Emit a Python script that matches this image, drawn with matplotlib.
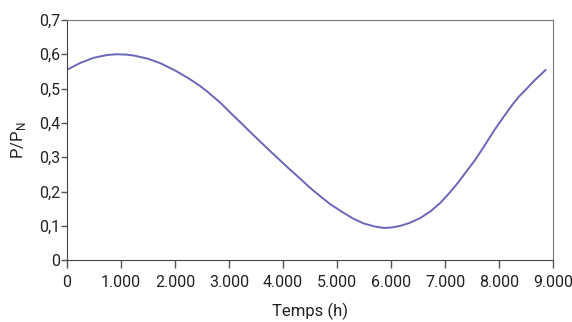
import matplotlib
matplotlib.use("Agg")
import matplotlib.pyplot as plt

# time in hours, power relative to nominal
temps = [0, 250, 500, 750, 925, 1100, 1250, 1500, 1730, 2000, 2250, 2470, 2600, 2839,
         3024, 3210, 3456, 3700, 4074, 4300, 4500, 4691, 4876, 5100, 5300, 5493, 5700,
         5863, 6000, 6172, 6350, 6543, 6728, 6913, 7098, 7250, 7407, 7560, 7715, 7900,
         8085, 8150, 8250, 8363, 8500, 8630, 8858]
p_pn = [0.555, 0.575, 0.590, 0.598, 0.600, 0.599, 0.596, 0.587, 0.574, 0.553, 0.530,
        0.507, 0.491, 0.459, 0.430, 0.402, 0.364, 0.327, 0.272, 0.240, 0.211, 0.186,
        0.163, 0.140, 0.121, 0.107, 0.098, 0.094, 0.095, 0.100, 0.109, 0.123, 0.142,
        0.167, 0.199, 0.228, 0.261, 0.293, 0.330, 0.376, 0.418, 0.432, 0.454, 0.476,
        0.498, 0.520, 0.554]

x_ticks = [0, 1000, 2000, 3000, 4000, 5000, 6000, 7000, 8000, 9000]
x_labels = ["0", "1.000", "2.000", "3.000", "4.000", "5.000", "6.000", "7.000", "8.000", "9.000"]
y_ticks = [0, 0.1, 0.2, 0.3, 0.4, 0.5, 0.6, 0.7]
y_labels = ["0", "0,1", "0,2", "0,3", "0,4", "0,5", "0,6", "0,7"]

plt.rcParams["font.family"] = ["Roboto", "DejaVu Sans"]

fig = plt.figure(figsize=(5.72, 3.22), dpi=100)
ax = fig.add_axes([0.117, 0.192, 0.850, 0.746])
ax.plot(temps, p_pn, color="#6a66b8", linewidth=1.4)

ax.set_xlim(0, 9000)
ax.set_ylim(0, 0.7)
ax.set_xticks(x_ticks)
ax.set_xticklabels(x_labels)
ax.set_yticks(y_ticks)
ax.set_yticklabels(y_labels)
ax.tick_params(axis="x", length=6, width=1, colors="#555555", labelcolor="#222222",
               labelsize=11.5, pad=5)
ax.tick_params(axis="y", length=4, width=1, colors="#555555", labelcolor="#222222",
               labelsize=11.5, pad=1)

for side in ["left", "bottom"]:
    ax.spines[side].set_color("#444444")
for side in ["top", "right"]:
    ax.spines[side].set_color("#777777")

ax.set_xlabel("Temps (h)", fontsize=12, color="#222222", labelpad=9)
ax.set_ylabel("P/P$_\\mathregular{N}$", fontsize=12, color="#222222", labelpad=8)

fig.savefig("out.png", dpi=100)
